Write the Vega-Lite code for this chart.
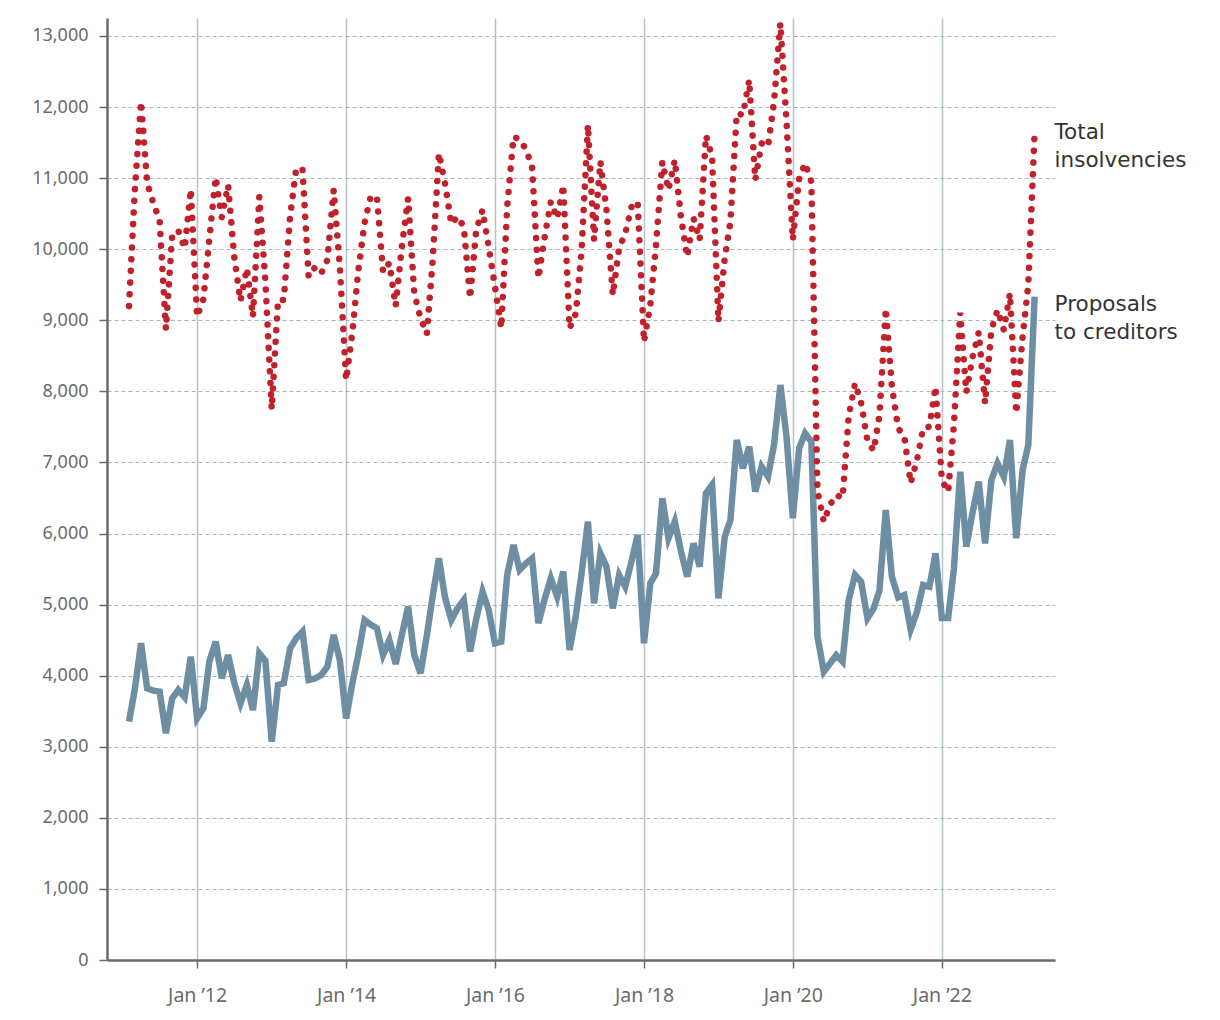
{
  "$schema": "https://vega.github.io/schema/vega-lite/v6.json",
  "width": 948,
  "height": 942,
  "autosize": {"type": "none"},
  "padding": {"left": 107, "top": 18, "right": 165, "bottom": 60},
  "background": "white",
  "config": {
    "view": {"stroke": null},
    "font": "Noto Sans",
    "axis": {"labelFont": "Noto Sans", "labelFontSize": 18, "labelColor": "#6b6b6b", "title": null},
    "axisX": {"labelFontSize": 19.5}
  },
  "data": {"values": [
    {"date": "2011-02-01", "total": 9201, "proposals": 3353},
    {"date": "2011-03-01", "total": 10810, "proposals": 3800},
    {"date": "2011-04-01", "total": 12076, "proposals": 4456},
    {"date": "2011-05-01", "total": 10930, "proposals": 3822},
    {"date": "2011-06-01", "total": 10640, "proposals": 3789},
    {"date": "2011-07-01", "total": 10411, "proposals": 3775},
    {"date": "2011-08-01", "total": 8874, "proposals": 3190},
    {"date": "2011-09-01", "total": 10209, "proposals": 3682},
    {"date": "2011-10-01", "total": 10261, "proposals": 3799},
    {"date": "2011-11-01", "total": 10013, "proposals": 3696},
    {"date": "2011-12-01", "total": 10843, "proposals": 4268},
    {"date": "2012-01-01", "total": 9050, "proposals": 3400},
    {"date": "2012-02-01", "total": 9300, "proposals": 3541},
    {"date": "2012-03-01", "total": 10150, "proposals": 4200},
    {"date": "2012-04-01", "total": 11012, "proposals": 4479},
    {"date": "2012-05-01", "total": 10450, "proposals": 3963},
    {"date": "2012-06-01", "total": 10903, "proposals": 4291},
    {"date": "2012-07-01", "total": 9895, "proposals": 3900},
    {"date": "2012-08-01", "total": 9272, "proposals": 3611},
    {"date": "2012-09-01", "total": 9732, "proposals": 3869},
    {"date": "2012-10-01", "total": 9051, "proposals": 3517},
    {"date": "2012-11-01", "total": 10739, "proposals": 4315},
    {"date": "2012-12-01", "total": 9550, "proposals": 4210},
    {"date": "2013-01-01", "total": 7750, "proposals": 3072},
    {"date": "2013-02-01", "total": 9286, "proposals": 3869},
    {"date": "2013-03-01", "total": 9286, "proposals": 3893},
    {"date": "2013-04-01", "total": 10458, "proposals": 4385},
    {"date": "2013-05-01", "total": 11139, "proposals": 4526},
    {"date": "2013-06-01", "total": 11125, "proposals": 4619},
    {"date": "2013-07-01", "total": 9614, "proposals": 3939},
    {"date": "2013-08-01", "total": 9746, "proposals": 3960},
    {"date": "2013-09-01", "total": 9661, "proposals": 4010},
    {"date": "2013-10-01", "total": 9850, "proposals": 4127},
    {"date": "2013-11-01", "total": 10833, "proposals": 4573},
    {"date": "2013-12-01", "total": 9754, "proposals": 4221},
    {"date": "2014-01-01", "total": 8160, "proposals": 3400},
    {"date": "2014-02-01", "total": 8840, "proposals": 3900},
    {"date": "2014-03-01", "total": 9684, "proposals": 4290},
    {"date": "2014-04-01", "total": 10364, "proposals": 4783},
    {"date": "2014-05-01", "total": 10739, "proposals": 4720},
    {"date": "2014-06-01", "total": 10739, "proposals": 4667},
    {"date": "2014-07-01", "total": 9680, "proposals": 4291},
    {"date": "2014-08-01", "total": 9806, "proposals": 4502},
    {"date": "2014-09-01", "total": 9201, "proposals": 4165},
    {"date": "2014-10-01", "total": 10031, "proposals": 4570},
    {"date": "2014-11-01", "total": 10716, "proposals": 4971},
    {"date": "2014-12-01", "total": 9384, "proposals": 4291},
    {"date": "2015-01-01", "total": 9028, "proposals": 4033},
    {"date": "2015-02-01", "total": 8807, "proposals": 4570},
    {"date": "2015-03-01", "total": 9825, "proposals": 5110},
    {"date": "2015-04-01", "total": 11350, "proposals": 5651},
    {"date": "2015-05-01", "total": 10927, "proposals": 5100},
    {"date": "2015-06-01", "total": 10355, "proposals": 4783},
    {"date": "2015-07-01", "total": 10458, "proposals": 4947},
    {"date": "2015-08-01", "total": 10317, "proposals": 5065},
    {"date": "2015-09-01", "total": 9309, "proposals": 4338},
    {"date": "2015-10-01", "total": 10270, "proposals": 4798},
    {"date": "2015-11-01", "total": 10552, "proposals": 5182},
    {"date": "2015-12-01", "total": 10036, "proposals": 4924},
    {"date": "2016-01-01", "total": 9473, "proposals": 4456},
    {"date": "2016-02-01", "total": 8892, "proposals": 4479},
    {"date": "2016-03-01", "total": 10598, "proposals": 5417},
    {"date": "2016-04-01", "total": 11583, "proposals": 5839},
    {"date": "2016-05-01", "total": 11546, "proposals": 5487},
    {"date": "2016-06-01", "total": 11405, "proposals": 5581},
    {"date": "2016-07-01", "total": 11162, "proposals": 5651},
    {"date": "2016-08-01", "total": 9591, "proposals": 4737},
    {"date": "2016-09-01", "total": 10177, "proposals": 5079},
    {"date": "2016-10-01", "total": 10669, "proposals": 5370},
    {"date": "2016-11-01", "total": 10434, "proposals": 5112},
    {"date": "2016-12-01", "total": 10903, "proposals": 5464},
    {"date": "2017-01-01", "total": 8888, "proposals": 4362},
    {"date": "2017-02-01", "total": 9098, "proposals": 4850},
    {"date": "2017-03-01", "total": 9989, "proposals": 5445},
    {"date": "2017-04-01", "total": 11748, "proposals": 6167},
    {"date": "2017-05-01", "total": 10130, "proposals": 5018},
    {"date": "2017-06-01", "total": 11231, "proposals": 5722},
    {"date": "2017-07-01", "total": 10552, "proposals": 5534},
    {"date": "2017-08-01", "total": 9356, "proposals": 4947},
    {"date": "2017-09-01", "total": 10013, "proposals": 5417},
    {"date": "2017-10-01", "total": 10223, "proposals": 5252},
    {"date": "2017-11-01", "total": 10598, "proposals": 5613},
    {"date": "2017-12-01", "total": 10669, "proposals": 5980},
    {"date": "2018-01-01", "total": 8700, "proposals": 4456},
    {"date": "2018-02-01", "total": 9215, "proposals": 5300},
    {"date": "2018-03-01", "total": 10059, "proposals": 5440},
    {"date": "2018-04-01", "total": 11231, "proposals": 6496},
    {"date": "2018-05-01", "total": 10833, "proposals": 5933},
    {"date": "2018-06-01", "total": 11256, "proposals": 6167},
    {"date": "2018-07-01", "total": 10458, "proposals": 5754},
    {"date": "2018-08-01", "total": 9895, "proposals": 5393},
    {"date": "2018-09-01", "total": 10434, "proposals": 5862},
    {"date": "2018-10-01", "total": 10130, "proposals": 5534},
    {"date": "2018-11-01", "total": 11600, "proposals": 6566},
    {"date": "2018-12-01", "total": 11300, "proposals": 6683},
    {"date": "2019-01-01", "total": 8980, "proposals": 5088},
    {"date": "2019-02-01", "total": 9873, "proposals": 5956},
    {"date": "2019-03-01", "total": 10387, "proposals": 6190},
    {"date": "2019-04-01", "total": 11911, "proposals": 7316},
    {"date": "2019-05-01", "total": 11888, "proposals": 6917},
    {"date": "2019-06-01", "total": 12381, "proposals": 7222},
    {"date": "2019-07-01", "total": 10974, "proposals": 6589},
    {"date": "2019-08-01", "total": 11490, "proposals": 6941},
    {"date": "2019-09-01", "total": 11443, "proposals": 6800},
    {"date": "2019-10-01", "total": 12076, "proposals": 7250},
    {"date": "2019-11-01", "total": 13180, "proposals": 8090},
    {"date": "2019-12-01", "total": 11795, "proposals": 7362},
    {"date": "2020-01-01", "total": 10130, "proposals": 6214},
    {"date": "2020-02-01", "total": 10997, "proposals": 7198},
    {"date": "2020-03-01", "total": 11209, "proposals": 7409},
    {"date": "2020-04-01", "total": 10950, "proposals": 7292},
    {"date": "2020-05-01", "total": 6600, "proposals": 4549},
    {"date": "2020-06-01", "total": 6166, "proposals": 4056},
    {"date": "2020-07-01", "total": 6401, "proposals": 4170},
    {"date": "2020-08-01", "total": 6542, "proposals": 4291},
    {"date": "2020-09-01", "total": 6500, "proposals": 4197},
    {"date": "2020-10-01", "total": 7650, "proposals": 5065},
    {"date": "2020-11-01", "total": 8113, "proposals": 5417},
    {"date": "2020-12-01", "total": 7840, "proposals": 5323},
    {"date": "2021-01-01", "total": 7300, "proposals": 4807},
    {"date": "2021-02-01", "total": 7166, "proposals": 4950},
    {"date": "2021-03-01", "total": 7668, "proposals": 5200},
    {"date": "2021-04-01", "total": 9168, "proposals": 6331},
    {"date": "2021-05-01", "total": 8066, "proposals": 5393},
    {"date": "2021-06-01", "total": 7480, "proposals": 5100},
    {"date": "2021-07-01", "total": 7362, "proposals": 5135},
    {"date": "2021-08-01", "total": 6707, "proposals": 4650},
    {"date": "2021-09-01", "total": 7035, "proposals": 4900},
    {"date": "2021-10-01", "total": 7480, "proposals": 5276},
    {"date": "2021-11-01", "total": 7503, "proposals": 5252},
    {"date": "2021-12-01", "total": 8066, "proposals": 5722},
    {"date": "2022-01-01", "total": 6750, "proposals": 4811},
    {"date": "2022-02-01", "total": 6589, "proposals": 4811},
    {"date": "2022-03-01", "total": 7527, "proposals": 5500},
    {"date": "2022-04-01", "total": 9107, "proposals": 6870},
    {"date": "2022-05-01", "total": 7985, "proposals": 5815},
    {"date": "2022-06-01", "total": 8489, "proposals": 6300},
    {"date": "2022-07-01", "total": 8832, "proposals": 6730},
    {"date": "2022-08-01", "total": 7832, "proposals": 5862},
    {"date": "2022-09-01", "total": 8864, "proposals": 6753},
    {"date": "2022-10-01", "total": 9145, "proposals": 6988},
    {"date": "2022-11-01", "total": 8864, "proposals": 6800},
    {"date": "2022-12-01", "total": 9380, "proposals": 7316},
    {"date": "2023-01-01", "total": 7692, "proposals": 5933},
    {"date": "2023-02-01", "total": 8770, "proposals": 6894},
    {"date": "2023-03-01", "total": 9500, "proposals": 7245},
    {"date": "2023-04-01", "total": 11640, "proposals": 9332}
  ]},
  "layer": [
    {
      "mark": {"type": "line", "color": "#6e8ea3", "strokeWidth": 6.5, "strokeJoin": "miter"},
      "encoding": {
        "x": {
          "field": "date", "type": "temporal",
          "scale": {"type": "utc", "domain": [{"year": 2010, "month": 10, "date": 16, "utc": true}, {"year": 2023, "month": 7, "date": 10, "utc": true}]},
          "axis": {
            "labelExpr": "'Jan ’' + substring(toString(utcyear(datum.value)), 2, 4)",
            "tickCount": {"interval": "year", "step": 2},
            "domain": true, "domainColor": "#6b6b6b", "domainWidth": 2.5,
            "ticks": true, "tickColor": "#6b6b6b", "tickSize": 8, "tickWidth": 1.5,
            "labelPadding": 18,
            "grid": true, "gridColor": "#b6c3cb", "gridWidth": 1.5
          }
        },
        "y": {
          "field": "proposals", "type": "quantitative",
          "scale": {"domain": [0, 13253], "nice": false},
          "axis": {
            "values": [0, 1000, 2000, 3000, 4000, 5000, 6000, 7000, 8000, 9000, 10000, 11000, 12000, 13000],
            "labelExpr": "datum.value == 0 ? '0' : toString(round(datum.value / 1000)) + ',000'",
            "domain": true, "domainColor": "#6b6b6b", "domainWidth": 2.5,
            "ticks": true, "tickColor": "#6b6b6b", "tickSize": 8, "tickWidth": 1.5,
            "labelPadding": 11,
            "grid": true, "gridColor": "#a9b3ba", "gridWidth": 1.2, "gridDash": [4, 3]
          }
        }
      }
    },
    {
      "mark": {"type": "line", "color": "#c0212b", "strokeWidth": 6.5, "strokeDash": [0.1, 11.6], "strokeCap": "round"},
      "encoding": {
        "x": {"field": "date", "type": "temporal"},
        "y": {"field": "total", "type": "quantitative"}
      }
    },
    {
      "transform": [{"filter": {"field": "date", "timeUnit": "utcyearmonth", "equal": {"year": 2023, "month": 4, "utc": true}}}],
      "mark": {"type": "text", "align": "left", "baseline": "top", "dx": 20, "dy": -11, "font": "DejaVu Sans", "fontSize": 21.5, "lineHeight": 28, "color": "#333333"},
      "encoding": {
        "x": {"field": "date", "type": "temporal"},
        "y": {"field": "total", "type": "quantitative"},
        "text": {"value": ["Total", "insolvencies"]}
      }
    },
    {
      "transform": [{"filter": {"field": "date", "timeUnit": "utcyearmonth", "equal": {"year": 2023, "month": 4, "utc": true}}}],
      "mark": {"type": "text", "align": "left", "baseline": "top", "dx": 20, "dy": -3, "font": "DejaVu Sans", "fontSize": 21.5, "lineHeight": 28, "color": "#333333"},
      "encoding": {
        "x": {"field": "date", "type": "temporal"},
        "y": {"field": "proposals", "type": "quantitative"},
        "text": {"value": ["Proposals", "to creditors"]}
      }
    }
  ]
}
